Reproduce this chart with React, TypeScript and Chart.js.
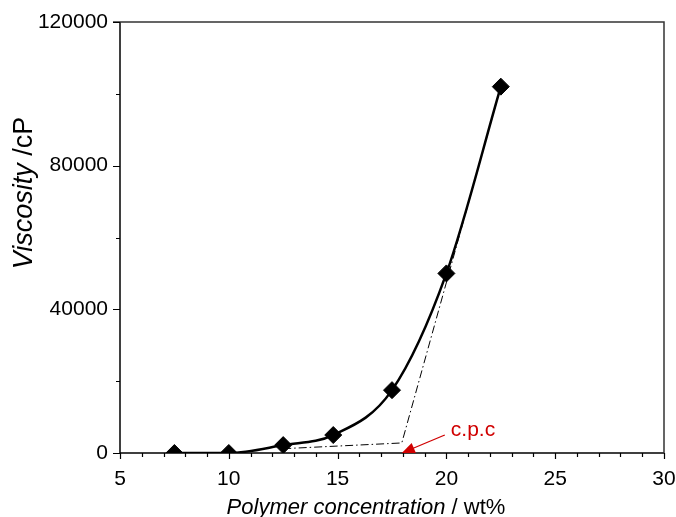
import React, { useEffect, useRef } from "react";
import { Chart, registerables } from "chart.js";

Chart.register(...registerables);

const concentration = [7.5, 10, 12.5, 14.8, 17.5, 20, 22.5];
const viscosity = [0, 0, 2200, 5000, 17500, 50000, 102000];

const tangentX = [12.5, 17.95, 22.5];
const tangentY = [1200, 2800, 102000];

const cpcX = 17.95;
const cpcLabel = "c.p.c";

const xTicks = [5, 10, 15, 20, 25, 30];
const yTicks = [0, 40000, 80000, 120000];
const xMinor = [6, 7, 8, 9, 11, 12, 13, 14, 16, 17, 18, 19, 21, 22, 23, 24, 26, 27, 28, 29];
const yMinor = [20000, 60000, 100000];

const xTitleItalic = "Polymer concentration";
const xTitleRegular = " / wt%";
const yTitleItalic = "Viscosity";
const yTitleRegular = " /cP";

const FONT = "'Liberation Sans', Arial, sans-serif";

const decorPlugin = {
  id: "decor",
  afterDraw(chart: any) {
    const ctx = chart.ctx as CanvasRenderingContext2D;
    const a = chart.chartArea;
    const xs = chart.scales.x;
    const ys = chart.scales.y;
    ctx.save();
    // frame
    ctx.strokeStyle = "#000";
    ctx.lineWidth = 1.5;
    ctx.beginPath();
    ctx.moveTo(a.left, a.top);
    ctx.lineTo(a.left, a.bottom);
    ctx.lineTo(a.right, a.bottom);
    ctx.stroke();
    ctx.strokeStyle = "#333";
    ctx.beginPath();
    ctx.moveTo(a.left - 7, a.top);
    ctx.lineTo(a.right, a.top);
    ctx.lineTo(a.right, a.bottom);
    ctx.stroke();
    // ticks
    ctx.strokeStyle = "#000";
    ctx.lineWidth = 1.2;
    ctx.beginPath();
    xTicks.forEach((v) => {
      const px = Math.round(xs.getPixelForValue(v)) + 0.5;
      ctx.moveTo(px, a.bottom);
      ctx.lineTo(px, a.bottom + 6);
    });
    xMinor.forEach((v) => {
      const px = Math.round(xs.getPixelForValue(v)) + 0.5;
      ctx.moveTo(px, a.bottom);
      ctx.lineTo(px, a.bottom + 4);
    });
    yTicks.forEach((v) => {
      const py = Math.round(ys.getPixelForValue(v)) + 0.5;
      ctx.moveTo(a.left, py);
      ctx.lineTo(a.left - 7, py);
    });
    yMinor.forEach((v) => {
      const py = Math.round(ys.getPixelForValue(v)) + 0.5;
      ctx.moveTo(a.left, py);
      ctx.lineTo(a.left - 4, py);
    });
    ctx.stroke();

    // x title
    ctx.fillStyle = "#000";
    ctx.textBaseline = "alphabetic";
    const fx = 22;
    ctx.font = `italic ${fx}px ${FONT}`;
    const w1 = ctx.measureText(xTitleItalic).width;
    ctx.font = `${fx}px ${FONT}`;
    const w2 = ctx.measureText(xTitleRegular).width;
    const cx = 366;
    const sx = cx - (w1 + w2) / 2;
    ctx.font = `italic ${fx}px ${FONT}`;
    ctx.textAlign = "left";
    ctx.fillText(xTitleItalic, sx, 514);
    ctx.font = `${fx}px ${FONT}`;
    ctx.fillText(xTitleRegular, sx + w1, 514);

    // y title
    const fy = 27;
    ctx.save();
    ctx.translate(32, 193);
    ctx.rotate(-Math.PI / 2);
    ctx.font = `italic ${fy}px ${FONT}`;
    const v1 = ctx.measureText(yTitleItalic).width;
    ctx.font = `${fy}px ${FONT}`;
    const v2 = ctx.measureText(yTitleRegular).width;
    const sy = -(v1 + v2) / 2;
    ctx.font = `italic ${fy}px ${FONT}`;
    ctx.fillText(yTitleItalic, sy, 0);
    ctx.font = `${fy}px ${FONT}`;
    ctx.fillText(yTitleRegular, sy + v1, 0);
    ctx.restore();

    // annotation
    const red = "#d00000";
    const tipX = xs.getPixelForValue(cpcX);
    const tipY = a.bottom;
    const tailX = tipX + 43;
    const tailY = tipY - 18;
    const ang = Math.atan2(tipY - tailY, tipX - tailX);
    const hl = 13;
    const hw = 5.5;
    ctx.strokeStyle = red;
    ctx.fillStyle = red;
    ctx.lineWidth = 1.3;
    ctx.beginPath();
    ctx.moveTo(tailX, tailY);
    ctx.lineTo(tipX - hl * Math.cos(ang) * 0.8, tipY - hl * Math.sin(ang) * 0.8);
    ctx.stroke();
    const bx = tipX - hl * Math.cos(ang);
    const by = tipY - hl * Math.sin(ang);
    ctx.beginPath();
    ctx.moveTo(tipX, tipY);
    ctx.lineTo(bx + hw * Math.sin(ang), by - hw * Math.cos(ang));
    ctx.lineTo(bx - hw * Math.sin(ang), by + hw * Math.cos(ang));
    ctx.closePath();
    ctx.fill();
    ctx.font = `21px ${FONT}`;
    ctx.textAlign = "left";
    ctx.fillText(cpcLabel, tailX + 6, 436);
    ctx.restore();
  },
};

export default function App() {
  const ref = useRef<HTMLCanvasElement>(null);
  useEffect(() => {
    if (!ref.current) return;
    const chart = new Chart(ref.current, {
      type: "scatter",
      data: {
        datasets: [
          {
            data: tangentX.map((x, i) => ({ x, y: tangentY[i] })),
            showLine: true,
            borderColor: "#000",
            borderWidth: 1,
            borderDash: [8, 3, 1.5, 3],
            pointRadius: 0,
            tension: 0,
          },
          {
            data: concentration.map((x, i) => ({ x, y: viscosity[i] })),
            showLine: true,
            borderColor: "#000",
            borderWidth: 2.5,
            cubicInterpolationMode: "monotone",
            pointStyle: "rectRot",
            pointRadius: 8.5,
            pointBackgroundColor: "#000",
            pointBorderColor: "#000",
            pointBorderWidth: 1,
          },
        ],
      },
      options: {
        responsive: false,
        animation: false,
        events: [],
        layout: { padding: { left: 0, top: 22, right: 12, bottom: 0 } },
        plugins: { legend: { display: false }, tooltip: { enabled: false } },
        scales: {
          x: {
            type: "linear",
            min: 5,
            max: 30,
            afterFit: (s: any) => {
              s.height = 64;
              s.paddingLeft = 0;
              s.paddingRight = 0;
            },
            afterBuildTicks: (s: any) => {
              s.ticks = xTicks.map((v) => ({ value: v }));
            },
            grid: { display: false, drawTicks: false },
            border: { display: false },
            ticks: {
              padding: 14,
              color: "#000",
              font: { family: FONT, size: 21 },
              maxRotation: 0,
            },
          },
          y: {
            type: "linear",
            min: 0,
            max: 120000,
            afterFit: (s: any) => {
              s.width = 120;
              s.paddingTop = 0;
              s.paddingBottom = 0;
            },
            afterBuildTicks: (s: any) => {
              s.ticks = yTicks.map((v) => ({ value: v }));
            },
            grid: { display: false, drawTicks: false },
            border: { display: false },
            ticks: {
              padding: 12,
              color: "#000",
              font: { family: FONT, size: 21 },
              callback: (v: any) => String(v),
            },
          },
        },
      },
      plugins: [decorPlugin],
    });
    return () => chart.destroy();
  }, []);
  return (
    <div style={{ position: "fixed", left: 0, top: 0, width: 676, height: 517, background: "#fff" }}>
      <canvas ref={ref} width={676} height={517} style={{ width: 676, height: 517 }} />
    </div>
  );
}
